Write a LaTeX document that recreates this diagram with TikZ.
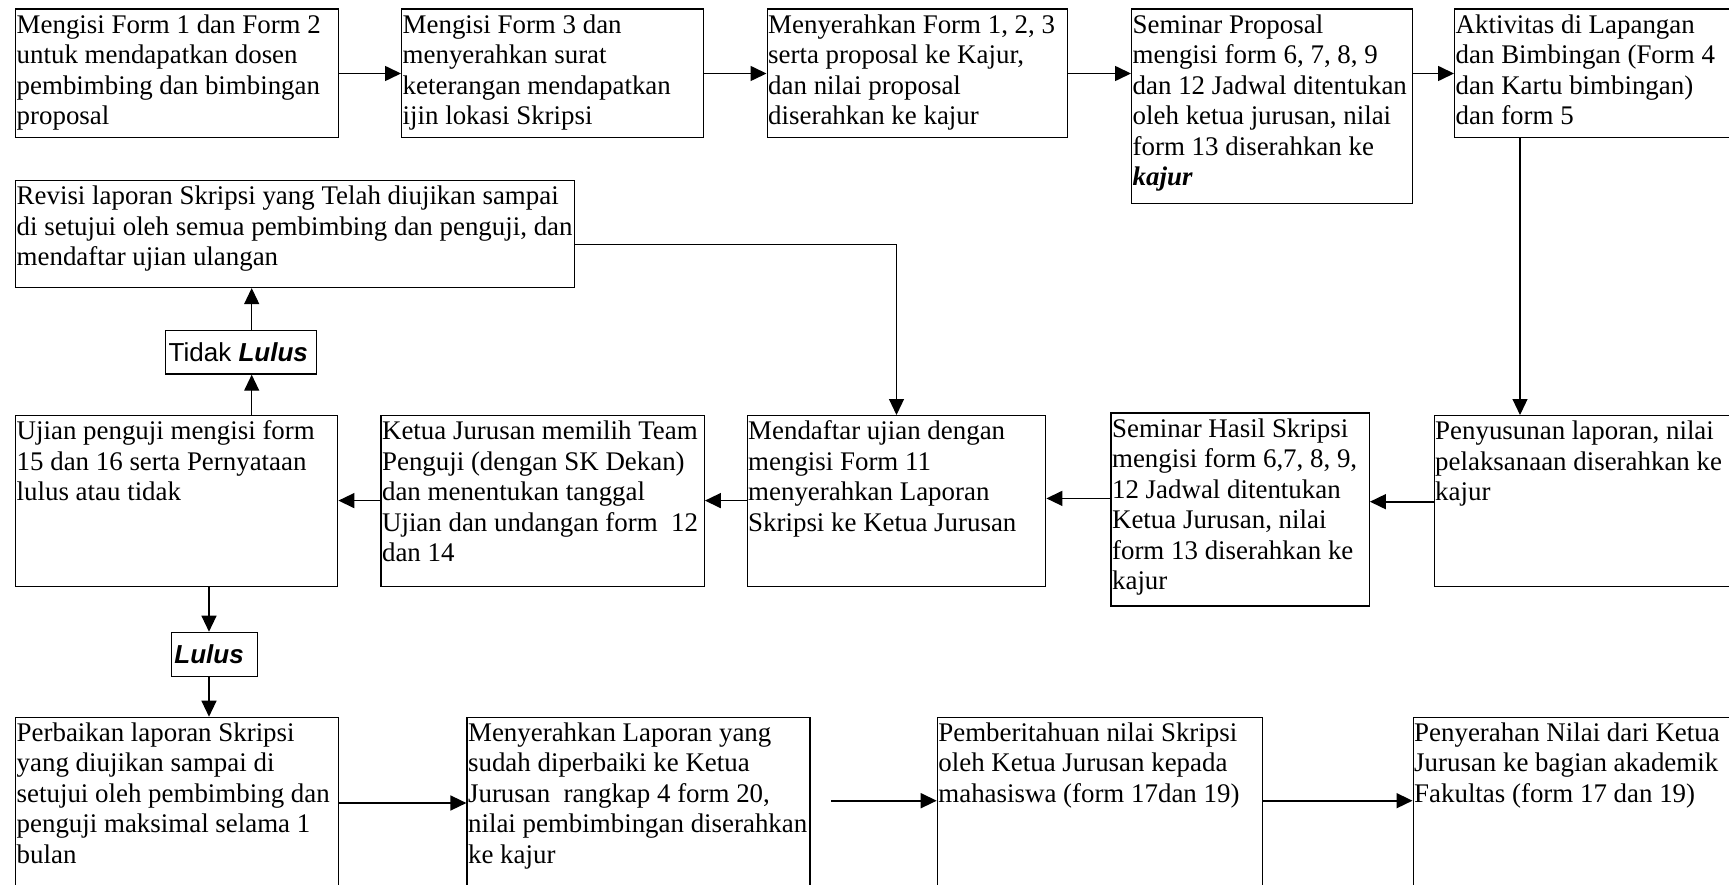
\documentclass[tikz,border=0pt]{standalone}
\usepackage{fontspec}
\setmainfont{Liberation Serif}
\newfontfamily\arialfont{Liberation Sans}
\usetikzlibrary{arrows.meta,calc}
\lineskiplimit=-40pt
\newcommand{\bxt}[3]{\parbox[t][#2][t]{#1}{\raggedright\leftskip=1pt\relax\rule{0pt}{24pt}#3}}
\newcommand{\lbt}[3]{\parbox[t][#2][c]{#1}{\hspace*{3pt}#3}}
\tikzset{
  box/.style={draw, line width=1.4pt, inner sep=0pt, anchor=north west, font=\fontsize{26.9}{30.5}\selectfont},
  lbl/.style={draw, line width=1.4pt, inner sep=0pt, anchor=north west, font=\arialfont\fontsize{26}{30}\selectfont},
  arr/.style={line width=1.6pt, -{Triangle[length=16pt,width=15pt]}},
  varr/.style={line width=1.2pt, -{Triangle[length=16pt,width=15pt]}},
}
\begin{document}
\begin{tikzpicture}[x=1pt,y=-1pt]
\useasboundingbox (0,0) rectangle (1729,885);
\clip (0,0) rectangle (1729,885);
% top row
\node[box] (b1) at (15,8.5) {\bxt{323pt}{128.5pt}{Mengisi Form 1 dan Form 2\\untuk mendapatkan dosen\\pembimbing dan bimbingan\\proposal}};
\node[box] (b2) at (401,8.5) {\bxt{301.5pt}{128.5pt}{Mengisi Form 3 dan\\menyerahkan surat\\keterangan mendapatkan\\ijin lokasi Skripsi}};
\node[box] (b3) at (766.5,8.5) {\bxt{300.5pt}{128.5pt}{Menyerahkan Form 1, 2, 3\\serta proposal ke Kajur,\\dan nilai proposal\\diserahkan ke kajur}};
\node[box] (b4) at (1131,8.5) {\bxt{281pt}{194.5pt}{Seminar Proposal\\mengisi form 6, 7, 8, 9\\dan 12 Jadwal ditentukan\\oleh ketua jurusan, nilai\\form 13 diserahkan ke\\\textbf{\textit{kajur}}}};
\node[box] (b5) at (1454,8.5) {\bxt{300pt}{128.5pt}{Aktivitas di Lapangan\\dan Bimbingan (Form 4\\dan Kartu bimbingan)\\dan form 5}};
% middle
\node[box] (rv) at (15,180) {\bxt{558.5pt}{106.7pt}{Revisi laporan Skripsi yang Telah diujikan sampai\\di setujui oleh semua pembimbing dan penguji, dan\\mendaftar ujian ulangan}};
\node[lbl] (tl) at (165,330) {\lbt{151pt}{43.3pt}{Tidak \textbf{\textit{Lulus}}}};
\node[box] (uj) at (15,415) {\bxt{322pt}{171pt}{Ujian penguji mengisi form\\15 dan 16 serta Pernyataan\\lulus atau tidak}};
\node[box] (kt) at (380.4,415) {\bxt{323.1pt}{171pt}{Ketua Jurusan memilih Team\\Penguji (dengan SK Dekan)\\dan menentukan tanggal\\Ujian dan undangan form\ \ 12\\dan 14}};
\node[box] (md) at (746.5,415) {\bxt{298.5pt}{171pt}{Mendaftar ujian dengan\\mengisi Form 11\\menyerahkan Laporan\\Skripsi ke Ketua Jurusan}};
\node[box] (sh) at (1110.4,412.4) {\bxt{258.1pt}{193pt}{Seminar Hasil Skripsi\\mengisi form 6,7, 8, 9,\\12 Jadwal ditentukan\\Ketua Jurusan, nilai\\form 13 diserahkan ke\\kajur}};
\node[box] (pz) at (1433.5,415) {\bxt{320pt}{171pt}{Penyusunan laporan, nilai\\pelaksanaan diserahkan ke\\kajur}};
\node[lbl] (lu) at (170.7,631.7) {\lbt{86pt}{44pt}{\textbf{\textit{Lulus}}}};
% bottom row
\node[box] (pb) at (15,716.7) {\bxt{323pt}{200pt}{Perbaikan laporan Skripsi\\yang diujikan sampai di\\setujui oleh pembimbing dan\\penguji maksimal selama 1\\bulan}};
\node[box] (ml) at (466.4,716.7) {\bxt{342.9pt}{200pt}{Menyerahkan Laporan yang\\sudah diperbaiki ke Ketua\\Jurusan\ \ rangkap 4 form 20,\\nilai pembimbingan diserahkan\\ke kajur}};
\node[box] (pm) at (936.7,716.7) {\bxt{324.8pt}{200pt}{Pemberitahuan nilai Skripsi\\oleh Ketua Jurusan kepada\\mahasiswa (form 17dan 19)}};
\node[box] (pn) at (1412.5,716.7) {\bxt{330pt}{200pt}{Penyerahan Nilai dari Ketua\\Jurusan ke bagian akademik\\Fakultas (form 17 dan 19)}};
% top arrows
\draw[arr] ([yshift=-65pt]b1.north east) -- ([yshift=-65pt]b2.north west);
\draw[arr] ([yshift=-65pt]b2.north east) -- ([yshift=-65pt]b3.north west);
\draw[arr] ([yshift=-65pt]b3.north east) -- ([yshift=-65pt]b4.north west);
\draw[arr] ([yshift=-65pt]b4.north east) -- ([yshift=-65pt]b5.north west);
% long connectors
\coordinate (c5) at ([xshift=66pt]b5.south west);
\draw[varr] (c5) -- (c5 |- pz.north);
\draw[varr] ([yshift=-10.4pt]rv.east) -| ([xshift=150pt]md.north west);
% middle arrows
\draw[arr] ([yshift=-86.7pt]pz.north west) -- ([yshift=-89.3pt]sh.north east);
\draw[arr] ([yshift=-86pt]sh.north west) -- ([yshift=-83.4pt]md.north east);
\draw[arr] ([yshift=-85.6pt]md.north west) -- ([yshift=-85.6pt]kt.north east);
\draw[arr] ([yshift=-85.6pt]kt.north west) -- ([yshift=-85.6pt]uj.north east);
% vertical arrows left
\coordinate (u1) at ([xshift=236.7pt]uj.north west);
\draw[varr] (u1) -- (u1 |- tl.south);
\coordinate (t1) at ([xshift=86.7pt]tl.north west);
\draw[varr] (t1) -- (t1 |- rv.south);
\coordinate (u2) at ([xshift=194pt]uj.south west);
\draw[varr] (u2) -- (u2 |- lu.north);
\coordinate (l1) at ([xshift=38.3pt]lu.south west);
\draw[varr] (l1) -- (l1 |- pb.north);
% bottom arrows
\draw[arr] ([yshift=-86.3pt]pb.north east) -- ([yshift=-86.3pt]ml.north west);
\draw[arr] ([xshift=20.7pt,yshift=-84pt]ml.north east) -- ([yshift=-84pt]pm.north west);
\draw[arr] ([yshift=-84pt]pm.north east) -- ([yshift=-84pt]pn.north west);
\end{tikzpicture}
\end{document}
